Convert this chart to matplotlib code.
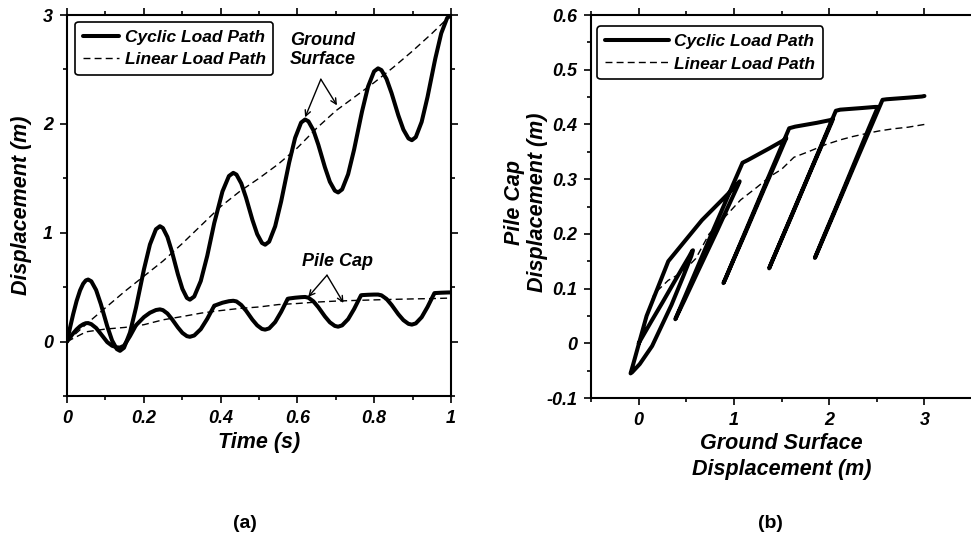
import matplotlib
matplotlib.use("Agg")
import matplotlib.pyplot as plt
import matplotlib.ticker as plt_ticker

# time (s) for the cyclic load path
time_cyclic = [0, .008, .016, .025, .034, .042, .049, .055,
               .0633, .0758, .0882, .1048, .1173, .1297, .138,
               .1484, .164, .1796, .2004, .216, .2316, .242,
               .2498, .2615, .2732, .2888, .3005, .3122, .32,
               .3313, .3483, .3652, .3835, .3878, .4048, .4217, .433,
               .4413, .4538, .4662, .4828, .4953, .5077, .516,
               .5264, .542, .5576, .5747, .5784, .594, .6096, .62,
               .6286, .6415, .6544, .6716, .6845, .6974, .706,
               .7164, .732, .7476, .7656, .7684, .784, .7996, .81,
               .8188, .832, .8452, .8628, .876, .8892, .898,
               .9082, .9235, .9388, .9567, .9592, .9745, .9898, 1.0]
ground_cyclic = [0, .129, .251, .373, .470, .531, .562, .57,
                 .554, .474, .344, .141, .011, -.069, -.085,
                 -.057, .083, .311, .664, .892, 1.032, 1.06,
                 1.043, .961, .827, .618, .484, .401, .385,
                 .414, .556, .7875, 1.09, 1.1475, 1.379, 1.521, 1.55,
                 1.534, 1.453, 1.322, 1.118, .987, .906, .89,
                 .918, 1.0585, 1.287, 1.58, 1.643, 1.8715, 2.012, 2.04,
                 2.0236, 1.942, 1.8085, 1.6015, 1.468, 1.3864, 1.37,
                 1.398, 1.537, 1.764, 2.07, 2.116, 2.343, 2.482, 2.51,
                 2.494, 2.413, 2.282, 2.078, 1.947, 1.866, 1.85,
                 1.878, 2.018, 2.247, 2.56, 2.602, 2.832, 2.972, 3.0]
pile_cyclic = [0, .039, .075, .112, .141, .159, .169, .17,
               .16, .125, .07, -.005, -.038, -.053, -.055,
               -.038, .05, .15, .225, .265, .29, .296,
               .289, .258, .207, .13, .08, .05, .044,
               .056, .114, .209, .33, .335, .357, .371, .375,
               .369, .336, .284, .201, .149, .116, .11,
               .121, .179, .273, .393, .396, .403, .408, .41,
               .403, .37, .316, .231, .177, .144, .137,
               .149, .206, .299, .425, .427, .43, .432, .432,
               .425, .392, .337, .251, .197, .163, .156,
               .167, .224, .318, .445, .446, .449, .451, .452]

# linear load path
time_linear = [0, .05, .1, .15, .2, .25, .3, .35, .4, .45, .5,
               .55, .6, .65, .7, .75, .8, .85, .9, .95, 1.0]
ground_linear = [0, .16, .31, .46, .6, .74, .9, 1.07, 1.24, 1.38, 1.5,
                 1.63, 1.78, 1.96, 2.12, 2.25, 2.38, 2.52, 2.67, 2.83, 3.0]
pile_linear = [0, .09, .115, .13, .155, .2, .23, .262, .285, .305, .318,
               .34, .35, .363, .372, .378, .383, .388, .392, .395, .40]

plt.rcParams["font.family"] = "Liberation Sans"
plt.rcParams["font.weight"] = "bold"
plt.rcParams["font.style"] = "italic"
plt.rcParams["axes.labelweight"] = "bold"
plt.rcParams["axes.linewidth"] = 1.5

CYC = dict(color="black", lw=2.9, solid_capstyle="round", solid_joinstyle="round")
LIN = dict(color="black", lw=1.0, dashes=(5, 3))


def tick_label(v, _):
    if abs(v) < 1e-9:
        return "0"
    return "%g" % round(v, 3)


def style_axes(ax, handle_len, anchor):
    ax.tick_params(which="both", direction="out", top=True, width=1.2,
                   labelsize=13, pad=5)
    ax.tick_params(which="major", length=5)
    ax.tick_params(which="minor", length=3)
    ax.xaxis.set_major_formatter(plt_ticker.FuncFormatter(tick_label))
    ax.yaxis.set_major_formatter(plt_ticker.FuncFormatter(tick_label))
    leg = ax.legend(loc="upper left", fontsize=12.5, handlelength=handle_len,
                    borderpad=0.45, labelspacing=0.42, handletextpad=0.3,
                    borderaxespad=0, bbox_to_anchor=anchor, frameon=True,
                    fancybox=True, edgecolor="black", framealpha=1)
    leg.get_frame().set_linewidth(1.2)
    for txt in leg.get_texts():
        txt.set_fontweight("bold")
        txt.set_fontstyle("italic")


fig = plt.figure(figsize=(9.71, 5.38), dpi=100)

# (a) time histories
ax1 = fig.add_axes([0.069, 0.2639, 0.3955, 0.7082])
ax1.plot(time_cyclic, ground_cyclic, label="Cyclic Load Path", **CYC)
ax1.plot(time_linear, ground_linear, label="Linear Load Path", **LIN)
ax1.plot(time_cyclic, pile_cyclic, **CYC)
ax1.plot(time_linear, pile_linear, **LIN)
ax1.set_xlim(0, 1)
ax1.set_ylim(-0.5, 3)
ax1.xaxis.set_major_locator(plt_ticker.MultipleLocator(0.2))
ax1.xaxis.set_minor_locator(plt_ticker.MultipleLocator(0.1))
ax1.yaxis.set_major_locator(plt_ticker.MultipleLocator(1))
ax1.yaxis.set_minor_locator(plt_ticker.MultipleLocator(0.5))
ax1.tick_params(which="both", right=True)
ax1.set_xlabel("Time (s)", fontsize=15.5, labelpad=4)
ax1.set_ylabel("Displacement (m)", fontsize=15.5)
ax1.yaxis.set_label_coords(-0.09, 0.5)
style_axes(ax1, 2.1, (0.021, 0.982))

arrow = dict(arrowstyle="->", color="black", lw=1.0, shrinkA=0, shrinkB=0)
ax1.text(0.665, 2.68, "Ground\nSurface", ha="center", va="center",
         fontsize=13, linespacing=1.15)
ax1.annotate("", xy=(0.62, 2.06), xytext=(0.661, 2.41), arrowprops=arrow)
ax1.annotate("", xy=(0.703, 2.17), xytext=(0.661, 2.41), arrowprops=arrow)
ax1.text(0.705, 0.74, "Pile Cap", ha="center", va="center", fontsize=13)
ax1.annotate("", xy=(0.628, 0.41), xytext=(0.677, 0.61), arrowprops=arrow)
ax1.annotate("", xy=(0.72, 0.355), xytext=(0.677, 0.61), arrowprops=arrow)

# (b) pile cap vs ground surface
ax2 = fig.add_axes([0.6087, 0.2602, 0.3924, 0.7119])
ax2.plot(ground_cyclic, pile_cyclic, label="Cyclic Load Path", **CYC)
ax2.plot(ground_linear, pile_linear, label="Linear Load Path", **LIN)
ax2.set_xlim(-0.5, 3.5)
ax2.set_ylim(-0.1, 0.6)
ax2.xaxis.set_major_locator(plt_ticker.MultipleLocator(1))
ax2.xaxis.set_minor_locator(plt_ticker.MultipleLocator(0.5))
ax2.yaxis.set_major_locator(plt_ticker.MultipleLocator(0.1))
ax2.yaxis.set_minor_locator(plt_ticker.MultipleLocator(0.05))
ax2.spines["right"].set_visible(False)
ax2.set_xlabel("Ground Surface\nDisplacement (m)", fontsize=15.5, labelpad=3,
               linespacing=1.3)
ax2.set_ylabel("Pile Cap\nDisplacement (m)", fontsize=15.5, linespacing=1.1)
ax2.yaxis.set_label_coords(-0.113, 0.51)
style_axes(ax2, 3.7, (0.016, 0.971))

fig.text(245 / 971, 1 - 523 / 538, "(a)", ha="center", va="center",
         fontsize=14, fontstyle="normal", fontweight="bold")
fig.text(770 / 971, 1 - 523 / 538, "(b)", ha="center", va="center",
         fontsize=14, fontstyle="normal", fontweight="bold")

fig.savefig("out.png", dpi=100)
